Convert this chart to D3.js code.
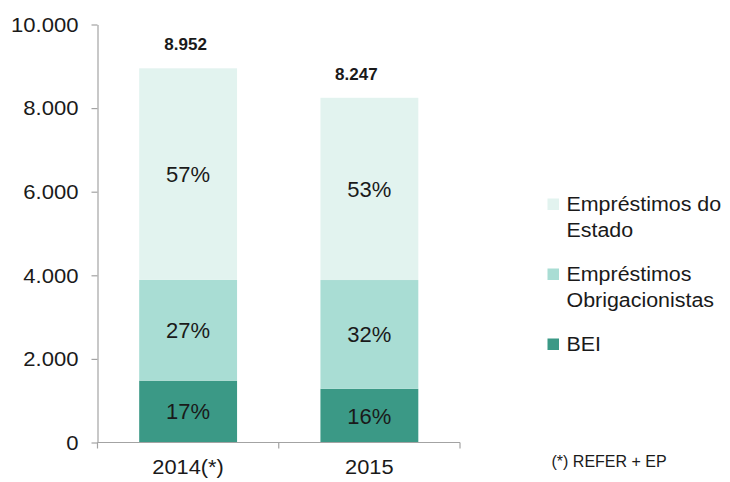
<!DOCTYPE html>
<html lang="pt">
<head>
<meta charset="utf-8">
<script src="https://cdn.jsdelivr.net/npm/d3@7"></script>
<style>
  html, body { margin: 0; padding: 0; background: #ffffff; }
  svg { display: block; }
  text { font-family: "Liberation Sans", Arial, Helvetica, sans-serif; fill: #1a1a1a; }
</style>
</head>
<body>
<svg id="chart" width="730" height="482"></svg>
<script>
// Dívida financeira por origem (valores absolutos, empilhados)
const categories = ["2014(*)", "2015"];
const bei = [1480, 1285];
const obrigacionistas = [2410, 2602];
const estado = [5062, 4360];
const yTicks = [0, 2000, 4000, 6000, 8000, 10000];

const seriesKeys = ["bei", "obrigacionistas", "estado"];
const seriesColors = ["#3b9986", "#a9ddd4", "#e2f3ef"];
const legendLabels = [
  ["Empréstimos do", "Estado"],
  ["Empréstimos", "Obrigacionistas"],
  ["BEI"]
];
const footnote = "(*) REFER + EP";

// Layout
const plot = { left: 97.5, right: 460, top: 24.5, bottom: 442.5 };
const totalLabelDx = [-2.5, -13];
const axisColor = "#a3a3a3";

// Widen glyphs slightly so the labels read as in the printed report
function widen(selection, factor) {
  selection.each(function () {
    const w = this.getComputedTextLength();
    d3.select(this).attr("textLength", w * factor).attr("lengthAdjust", "spacingAndGlyphs");
  });
}

const rows = categories.map((c, i) => ({
  category: c,
  bei: bei[i],
  obrigacionistas: obrigacionistas[i],
  estado: estado[i]
}));
rows.forEach(r => { r.total = seriesKeys.reduce((s, k) => s + r[k], 0); });

const pt = d3.formatLocale({ decimal: ",", thousands: ".", grouping: [3], currency: ["", " €"] });
const fmt = pt.format(",");

const svg = d3.select("#chart");

const x = d3.scaleBand()
  .domain(categories)
  .range([plot.left, plot.right])
  .paddingInner(0.46)
  .paddingOuter(0.23);

const y = d3.scaleLinear()
  .domain([0, 10000])
  .range([plot.bottom, plot.top]);

const stacked = d3.stack().keys(seriesKeys)(rows);

// Bars
const layers = svg.append("g")
  .selectAll("g")
  .data(stacked)
  .join("g")
  .attr("fill", (d, i) => seriesColors[i]);

layers.selectAll("rect")
  .data(d => d)
  .join("rect")
  .attr("x", d => x(d.data.category))
  .attr("width", x.bandwidth())
  .attr("y", d => y(d[1]))
  .attr("height", d => y(d[0]) - y(d[1]));

// Percentage labels inside each segment
layers.selectAll("text")
  .data(d => d.map(v => ({ v, key: d.key })))
  .join("text")
  .attr("x", d => x(d.v.data.category) + x.bandwidth() / 2)
  .attr("y", d => (y(d.v[0]) + y(d.v[1])) / 2)
  .attr("dy", "0.36em")
  .attr("text-anchor", "middle")
  .style("font-size", "22px")
  .text(d => Math.round((d.v[1] - d.v[0]) / d.v.data.total * 100) + "%");

// Totals above the bars
svg.append("g")
  .selectAll("text")
  .data(rows)
  .join("text")
  .attr("x", (d, i) => x(d.category) + x.bandwidth() / 2 + totalLabelDx[i])
  .attr("y", d => y(d.total) - 18)
  .attr("text-anchor", "middle")
  .style("font-size", "17px")
  .style("font-weight", "bold")
  .text(d => fmt(d.total));

// Y axis
const yAxis = svg.append("g")
  .attr("transform", `translate(${plot.left},0)`)
  .call(d3.axisLeft(y).tickValues(yTicks).tickFormat(fmt).tickSize(6).tickSizeOuter(0).tickPadding(13));
yAxis.select(".domain").attr("stroke", axisColor).attr("stroke-width", 1.2);
yAxis.selectAll(".tick line").attr("stroke", axisColor).attr("stroke-width", 1.2);
yAxis.selectAll(".tick text")
  .attr("fill", "#1a1a1a")
  .style("font-family", "'Liberation Sans', Arial, sans-serif")
  .style("font-size", "21px")
  .call(widen, 1.05);

// X axis: baseline with ticks on the category boundaries
const xAxis = svg.append("g");
xAxis.append("line")
  .attr("x1", plot.left).attr("x2", plot.right)
  .attr("y1", plot.bottom).attr("y2", plot.bottom)
  .attr("stroke", axisColor).attr("stroke-width", 1.2);
const boundaries = d3.range(categories.length + 1).map(i => plot.left + i * x.step());
xAxis.selectAll("line.tick")
  .data(boundaries)
  .join("line")
  .attr("class", "tick")
  .attr("x1", d => d).attr("x2", d => d)
  .attr("y1", plot.bottom).attr("y2", plot.bottom + 6)
  .attr("stroke", axisColor).attr("stroke-width", 1.2);
xAxis.selectAll("text")
  .data(categories)
  .join("text")
  .attr("x", d => x(d) + x.bandwidth() / 2)
  .attr("y", plot.bottom + 31)
  .attr("text-anchor", "middle")
  .style("font-size", "20px")
  .text(d => d)
  .call(widen, 1.09);

// Legend (top entry first)
const legendOrder = [2, 1, 0];
const legend = svg.append("g").attr("transform", "translate(547.5,0)");
let baseline = 211;
legendOrder.forEach((si, n) => {
  const g = legend.append("g");
  g.append("rect")
    .attr("x", 0)
    .attr("y", baseline - 12.5)
    .attr("width", 11.5)
    .attr("height", 11.5)
    .attr("fill", seriesColors[si]);
  legendLabels[n].forEach((line, li) => {
    g.append("text")
      .attr("x", 19)
      .attr("y", baseline + li * 26)
      .style("font-size", "20px")
      .text(line)
      .call(widen, 1.07);
  });
  baseline += (legendLabels[n].length - 1) * 26 + 44;
});

// Footnote
svg.append("text")
  .attr("x", 551.5)
  .attr("y", 467)
  .style("font-family", "'Liberation Sans Narrow', 'Liberation Sans', Arial, sans-serif")
  .style("font-size", "16px")
  .attr("fill", "#3a3a3a")
  .text(footnote);
</script>
</body>
</html>
